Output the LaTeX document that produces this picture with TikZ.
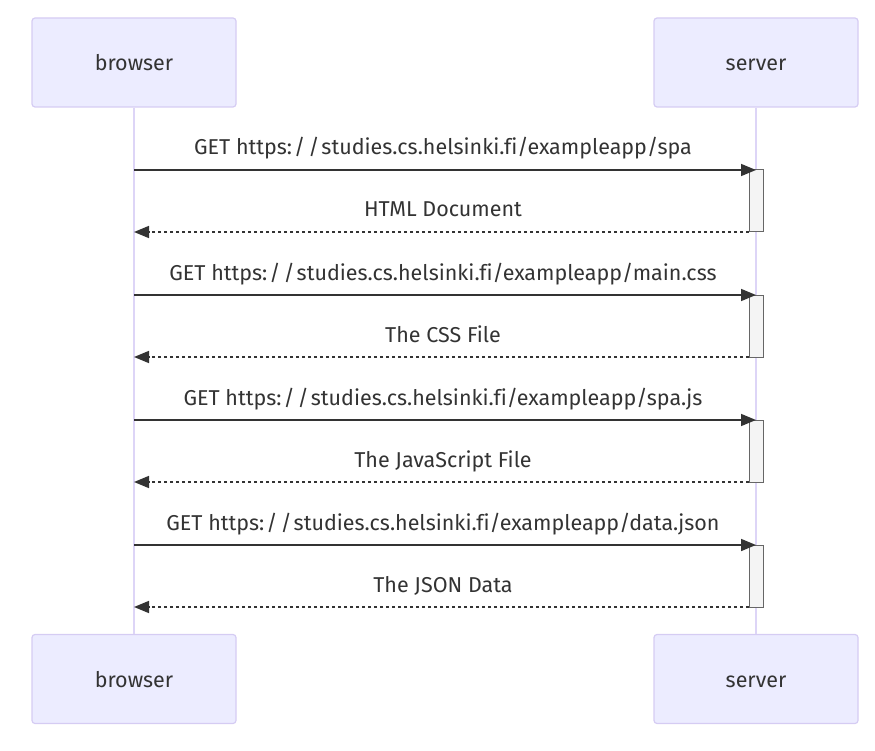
\documentclass[tikz,border=0pt]{standalone}
\usepackage{fontspec}
\setmainfont{Fira Sans}[Ligatures=NoCommon]
\usetikzlibrary{arrows.meta}
\newcommand{\dslash}{:\kern2pt/\kern3pt/\kern2pt}
\definecolor{actfill}{HTML}{ECECFF}
\definecolor{actline}{HTML}{D5CCF3}
\definecolor{lifeline}{HTML}{DDD5F7}
\definecolor{msg}{HTML}{333333}
\definecolor{actvfill}{HTML}{F4F4F4}
\definecolor{actvline}{HTML}{666666}
\tikzset{
  actor/.style={draw=actline, fill=actfill, line width=1.2pt, rounded corners=3pt, minimum width=204pt, minimum height=89pt, inner sep=0pt},
  atext/.style={font=\fontsize{21.5}{24}\selectfont, text=msg, inner sep=0pt, anchor=base},
  life/.style={draw=lifeline, line width=2pt},
  req/.style={draw=msg, line width=1.6pt, -{Triangle[length=15pt,width=12pt]}},
  resp/.style={draw=msg, line width=1.6pt, dash pattern=on 3pt off 3pt, -{Triangle[length=15pt,width=12pt]}},
  lbl/.style={font=\fontsize{21.5}{24}\selectfont, text=msg, inner sep=0pt, anchor=base},
  actv/.style={draw=actvline, fill=actvfill, line width=1pt}
}
\begin{document}
\begin{tikzpicture}[x=1pt,y=-1pt]
\useasboundingbox (0,0) rectangle (875,751);
\node[actor] (bt) at (134,62.5) {};
\node[actor] (st) at (756,62.5) {};
\node[actor] (bb) at (134,679) {};
\node[actor] (sb) at (756,679) {};
\node[atext] (btt) at (134,70.5) {browser};
\node[atext] (stt) at (756,70.5) {server};
\node[atext] (bbt) at (134,687) {browser};
\node[atext] (sbt) at (756,687) {server};
\draw[life] (bt.south) -- (bb.north);
\draw[life] (st.south) -- (sb.north);
% activations
\foreach \y in {170,295,420,545} {
  \draw[actv] (749,\y) rectangle (763,\y+62);
}
% messages
\coordinate (b1) at (134,170); \coordinate (s1) at (756,170);
\coordinate (b2) at (134,232); \coordinate (s2) at (749,232);
\coordinate (b3) at (134,295); \coordinate (s3) at (756,295);
\coordinate (b4) at (134,357); \coordinate (s4) at (749,357);
\coordinate (b5) at (134,420); \coordinate (s5) at (756,420);
\coordinate (b6) at (134,482); \coordinate (s6) at (749,482);
\coordinate (b7) at (134,545); \coordinate (s7) at (756,545);
\coordinate (b8) at (134,607); \coordinate (s8) at (749,607);
\draw[req] (b1) -- (s1);
\draw[resp] (s2) -- (b2);
\draw[req] (b3) -- (s3);
\draw[resp] (s4) -- (b4);
\draw[req] (b5) -- (s5);
\draw[resp] (s6) -- (b6);
\draw[req] (b7) -- (s7);
\draw[resp] (s8) -- (b8);
\node[lbl] (l1) at (443,155) {GET https\dslash studies.cs.helsinki.fi/exampleapp/spa};
\node[lbl] (l2) at (443,217) {HTML Document};
\node[lbl] (l3) at (443,280) {GET https\dslash studies.cs.helsinki.fi/exampleapp/main.css};
\node[lbl] (l4) at (443,342) {The CSS File};
\node[lbl] (l5) at (443,405) {GET https\dslash studies.cs.helsinki.fi/exampleapp/spa.js};
\node[lbl] (l6) at (443,467) {The JavaScript File};
\node[lbl] (l7) at (443,530) {GET https\dslash studies.cs.helsinki.fi/exampleapp/data.json};
\node[lbl] (l8) at (443,592) {The JSON Data};
\end{tikzpicture}
\end{document}
